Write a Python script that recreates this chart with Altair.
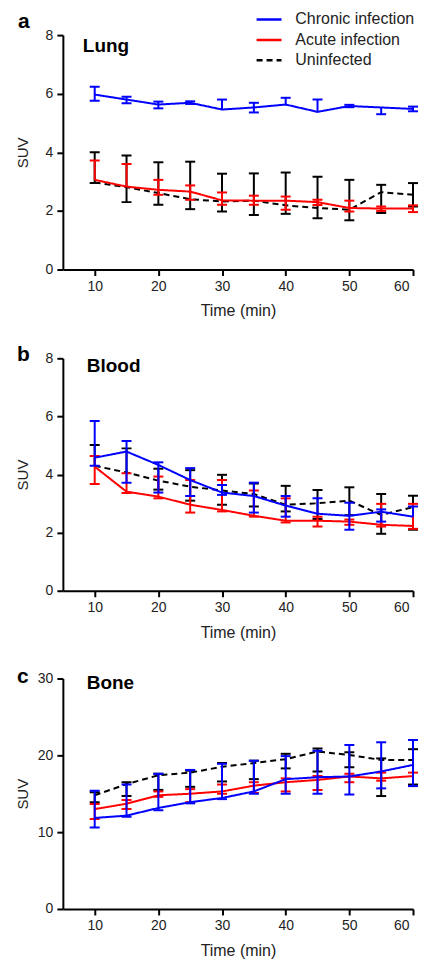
import altair as alt
import pandas as pd

times = [10, 15, 20, 25, 30, 35, 40, 45, 50, 55, 60]
series_names = ["Chronic infection", "Acute infection", "Uninfected"]
series_colors = ["#0000ff", "#ff0000", "#000000"]
series_dash = [[1, 0], [1, 0], [6, 4]]
panel_letters = ["a", "b", "c"]
panel_names = ["Lung", "Blood", "Bone"]
y_max = [8, 8, 30]
y_ticks = [[0, 2, 4, 6, 8], [0, 2, 4, 6, 8], [0, 10, 20, 30]]
x_ticks = [10, 20, 30, 40, 50, 60]

# Lung
lung_chronic_mean = [5.97, 5.80, 5.63, 5.69, 5.46, 5.53, 5.63, 5.38, 5.58, 5.53, 5.48]
lung_chronic_hi = [6.24, 5.90, 5.73, 5.74, 5.80, 5.69, 5.86, 5.80, 5.62, 5.53, 5.56]
lung_chronic_lo = [5.76, 5.67, 5.50, 5.65, 5.46, 5.36, 5.63, 5.38, 5.54, 5.30, 5.40]
lung_acute_mean = [3.06, 2.83, 2.72, 2.66, 2.36, 2.35, 2.35, 2.30, 2.10, 2.08, 2.08]
lung_acute_hi = [3.72, 3.60, 3.06, 2.87, 2.63, 2.52, 2.49, 2.38, 2.35, 2.15, 2.19]
lung_acute_lo = [3.06, 2.83, 2.55, 2.38, 2.21, 2.21, 2.04, 2.20, 1.98, 2.00, 1.96]
lung_uninf_mean = [2.97, 2.81, 2.61, 2.40, 2.32, 2.35, 2.19, 2.10, 2.04, 2.64, 2.55]
lung_uninf_hi = [4.00, 3.89, 3.66, 3.68, 3.27, 3.28, 3.31, 3.17, 3.06, 2.89, 2.95]
lung_uninf_lo = [2.95, 2.30, 2.21, 2.06, 1.98, 1.86, 1.90, 1.75, 1.68, 1.93, 2.15]

# Blood
blood_chronic_mean = [4.58, 4.79, 4.33, 3.81, 3.38, 3.26, 2.93, 2.65, 2.58, 2.72, 2.55]
blood_chronic_hi = [5.84, 5.15, 4.42, 4.22, 3.64, 3.72, 3.26, 3.18, 3.03, 2.80, 2.90]
blood_chronic_lo = [4.30, 3.72, 3.38, 3.26, 3.30, 2.69, 2.55, 2.65, 2.10, 2.38, 2.55]
blood_acute_mean = [4.27, 3.41, 3.24, 2.96, 2.78, 2.58, 2.41, 2.41, 2.38, 2.27, 2.23]
blood_acute_hi = [4.64, 4.04, 3.93, 3.81, 3.81, 3.45, 3.18, 2.55, 2.45, 2.99, 2.99]
blood_acute_lo = [3.67, 3.36, 3.18, 2.69, 2.73, 2.55, 2.35, 2.21, 2.27, 2.21, 2.13]
blood_uninf_mean = [4.30, 4.07, 3.79, 3.58, 3.45, 3.33, 2.96, 3.01, 3.10, 2.61, 2.88]
blood_uninf_hi = [5.02, 4.90, 4.20, 4.15, 3.99, 3.69, 3.61, 3.47, 3.56, 3.33, 3.27]
blood_uninf_lo = [4.30, 4.07, 3.48, 3.10, 2.96, 2.90, 2.73, 2.47, 2.60, 1.96, 2.10]

# Bone
bone_chronic_mean = [11.85, 12.15, 13.15, 13.9, 14.45, 15.3, 16.9, 17.15, 17.25, 17.9, 18.75]
bone_chronic_hi = [15.4, 16.2, 17.6, 18.1, 18.9, 19.3, 19.9, 20.6, 21.35, 21.7, 22.0]
bone_chronic_lo = [10.6, 12.0, 12.85, 13.75, 14.3, 15.0, 15.0, 15.0, 14.9, 15.7, 16.0]
bone_acute_mean = [13.0, 13.7, 14.8, 15.0, 15.3, 16.05, 16.5, 16.8, 17.25, 17.0, 17.3]
bone_acute_hi = [13.65, 14.2, 15.3, 15.6, 16.2, 16.5, 17.0, 17.3, 17.6, 17.75, 17.75]
bone_acute_lo = [11.7, 13.0, 14.6, 13.9, 15.0, 15.1, 15.3, 15.5, 16.5, 16.7, 16.0]
bone_uninf_mean = [14.8, 16.25, 17.4, 17.75, 18.5, 19.0, 19.5, 20.5, 20.05, 19.4, 19.4]
bone_uninf_hi = [15.2, 16.5, 17.6, 18.0, 19.0, 19.3, 20.2, 20.9, 20.4, 19.6, 20.8]
bone_uninf_lo = [13.9, 14.7, 15.5, 15.9, 16.6, 16.9, 18.3, 17.9, 18.45, 14.7, 16.2]

panel_data = [
    [(lung_chronic_mean, lung_chronic_hi, lung_chronic_lo),
     (lung_acute_mean, lung_acute_hi, lung_acute_lo),
     (lung_uninf_mean, lung_uninf_hi, lung_uninf_lo)],
    [(blood_chronic_mean, blood_chronic_hi, blood_chronic_lo),
     (blood_acute_mean, blood_acute_hi, blood_acute_lo),
     (blood_uninf_mean, blood_uninf_hi, blood_uninf_lo)],
    [(bone_chronic_mean, bone_chronic_hi, bone_chronic_lo),
     (bone_acute_mean, bone_acute_hi, bone_acute_lo),
     (bone_uninf_mean, bone_uninf_hi, bone_uninf_lo)],
]

frames = []
for p in range(3):
    rows = []
    for s, (m, hi, lo) in zip(series_names, panel_data[p]):
        for t, mv, hv, lv in zip(times, m, hi, lo):
            rows.append({"series": s, "time": t, "mean": mv, "hi": hv, "lo": lv})
    frames.append(pd.DataFrame(rows))

FONT = "Liberation Sans"
W = 351
H = [235, 233, 231]
letter_x = [-45, -46, -46]
letter_y = [-7, 3, 4]
name_x = [20, 24, 24]
name_y = [17, 14, 11]

color_scale = alt.Scale(domain=series_names, range=series_colors)
dash_scale = alt.Scale(domain=series_names, range=series_dash)


def make_panel(i, show_legend):
    df = frames[i]
    base = alt.Chart(df)
    x = alt.X("time:Q", scale=alt.Scale(domain=[5, 60], nice=False, zero=False),
              axis=alt.Axis(values=x_ticks, title="Time (min)", titlePadding=9.5,
                            titleFontSize=16, labelPadding=4,
                            labelOffset={"condition": {"test": "datum.value == 60", "value": -4},
                                         "value": 0}))
    yscale = alt.Scale(domain=[0, y_max[i]], nice=False, zero=True)
    yaxis = alt.Axis(values=y_ticks[i], title="SUV", titleX=-32, titleFontSize=15,
                     labelPadding=4)
    if show_legend:
        legend = alt.Legend(title=None, orient="none", legendX=198.7, legendY=-23.7,
                            symbolType="M-2,0H2", symbolSize=156.25, symbolStrokeWidth=2.5,
                            labelFontSize=16, labelOffset=18.3, rowPadding=4.5,
                            labelColor="#222222", labelFont=FONT)
    else:
        legend = None
    layers = []
    for s, col in reversed(list(zip(series_names, series_colors))):
        sub = base.transform_filter(alt.datum.series == s)
        rule = sub.mark_rule(strokeWidth=2, color=col).encode(
            x=x, y=alt.Y("lo:Q", scale=yscale, axis=yaxis), y2="hi:Q")
        cap_hi = sub.transform_filter("datum.hi > datum.mean").mark_tick(
            orient="horizontal", size=10, thickness=2, color=col, opacity=1).encode(
            x=x, y=alt.Y("hi:Q", scale=yscale, axis=yaxis))
        cap_lo = sub.transform_filter("datum.lo < datum.mean").mark_tick(
            orient="horizontal", size=10, thickness=2, color=col, opacity=1).encode(
            x=x, y=alt.Y("lo:Q", scale=yscale, axis=yaxis))
        line = sub.mark_line(strokeWidth=2).encode(
            x=x, y=alt.Y("mean:Q", scale=yscale, axis=yaxis),
            color=alt.Color("series:N", scale=color_scale, legend=legend),
            strokeDash=alt.StrokeDash("series:N", scale=dash_scale, legend=legend))
        layers += [rule, cap_hi, cap_lo, line]
    letter = alt.Chart(pd.DataFrame({"t": [panel_letters[i]]})).mark_text(
        align="left", baseline="alphabetic", fontSize=21, fontWeight="bold",
        color="black", font=FONT).encode(
        x=alt.value(letter_x[i]), y=alt.value(letter_y[i]), text="t:N")
    name = alt.Chart(pd.DataFrame({"t": [panel_names[i]]})).mark_text(
        align="left", baseline="alphabetic", fontSize=19, fontWeight="bold",
        color="black", font=FONT).encode(
        x=alt.value(name_x[i]), y=alt.value(name_y[i]), text="t:N")
    layers += [letter, name]
    return alt.layer(*layers).properties(width=W, height=H[i])


chart = alt.vconcat(
    make_panel(0, True), make_panel(1, False), make_panel(2, False), spacing=25
).resolve_scale(color="independent", strokeDash="independent").resolve_legend(
    color="independent", strokeDash="independent"
).properties(
    padding={"left": 8, "top": 2, "right": 0, "bottom": 0}
).configure_view(stroke=None).configure_axis(
    domainColor="black", domainWidth=2, tickColor="black", tickWidth=2, tickSize=6,
    labelFontSize=14, labelColor="#222222", labelFont=FONT,
    titleFontWeight="normal", titleColor="#222222", titleFont=FONT,
    grid=False
).configure_text(font=FONT)

chart.save("out.html", embed_options={"renderer": "svg", "actions": False})
